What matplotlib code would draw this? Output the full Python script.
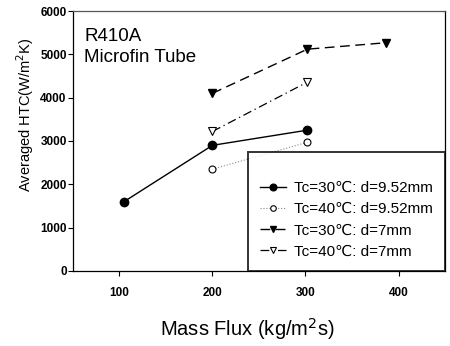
import matplotlib
matplotlib.use('agg')

import matplotlib.pyplot as plt

# data (mass flux kg/m2s, averaged HTC W/m2K)
flux_30_952 = [105, 200, 302]
htc_30_952 = [1600, 2900, 3250]

flux_40_952 = [200, 302]
htc_40_952 = [2350, 2970]

flux_30_7 = [200, 302, 387]
htc_30_7 = [4100, 5120, 5270]

flux_40_7 = [200, 302]
htc_40_7 = [3220, 4360]

labels = ['Tc=30\u2103: d=9.52mm', 'Tc=40\u2103: d=9.52mm',
          'Tc=30\u2103: d=7mm', 'Tc=40\u2103: d=7mm']
xticks = [100, 200, 300, 400]
yticks = [0, 1000, 2000, 3000, 4000, 5000, 6000]

plt.rcParams['font.family'] = ['Liberation Sans', 'DejaVu Sans']

fig = plt.figure(figsize=(4.5, 3.46), dpi=100)
ax = fig.add_axes([0.162, 0.217, 0.827, 0.751])

ax.plot(flux_30_952, htc_30_952, color='black', lw=1.0, ls='-',
        marker='o', ms=6, mfc='black', label=labels[0])
ax.plot(flux_40_952, htc_40_952, color='#888888', lw=0.8, ls=':',
        marker='o', ms=5, mfc='white', mec='black', mew=0.8, label=labels[1])
ax.plot(flux_30_7, htc_30_7, color='black', lw=1.0, ls=(0, (7, 4)),
        marker='v', ms=6, mfc='black', label=labels[2])
ax.plot(flux_40_7, htc_40_7, color='black', lw=0.9, ls=(0, (7, 3, 1, 3)),
        marker='v', ms=6, mfc='white', mec='black', mew=0.8, label=labels[3])

ax.set_xlim(50, 450)
ax.set_ylim(0, 6000)
ax.set_xticks(xticks)
ax.set_yticks(yticks)
for lab in ax.get_xticklabels() + ax.get_yticklabels():
    lab.set_fontsize(8.5)
    lab.set_fontweight('bold')
ax.tick_params(direction='out', length=3.5, width=0.8)
ax.tick_params(axis='y', pad=1)
ax.tick_params(axis='x', pad=8)
for sp in ax.spines.values():
    sp.set_linewidth(0.9)
ax.spines['top'].set_color('#555555')

ax.set_xlabel('Mass Flux (kg/m$^2$s)', fontsize=14.5)
ax.xaxis.set_label_coords(0.468, -0.175)
ax.set_ylabel('Averaged HTC(W/m$^2$K)', fontsize=10.5)
ax.yaxis.set_label_coords(-0.1, 0.6)

ax.text(0.03, 0.935, 'R410A\nMicrofin Tube', transform=ax.transAxes,
        fontsize=13.5, va='top', ha='left', linespacing=1.28)

leg = ax.legend(loc='lower right', borderaxespad=0,
                frameon=True, fancybox=False, edgecolor='black',
                labelspacing=0.47, handlelength=1.7, handletextpad=0.5,
                borderpad=0.8, markerscale=0.8, prop={'size': 11},
                title=' ', title_fontsize=7)
leg.get_frame().set_linewidth(1.4)

fig.savefig('out.png', dpi=100)
